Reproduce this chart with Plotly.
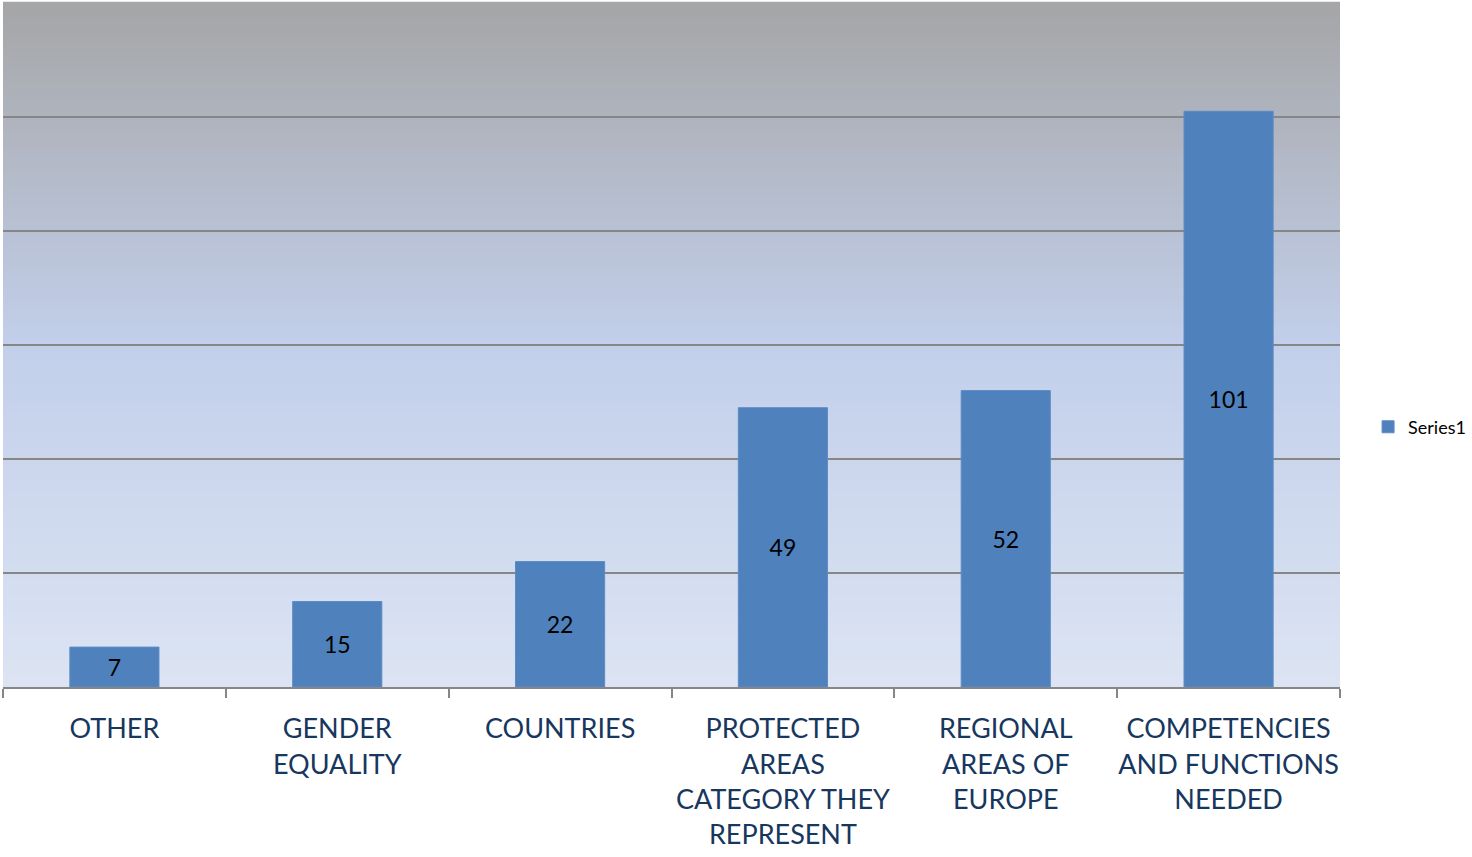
import plotly.graph_objects as go

categories = [
    "OTHER",
    "GENDER<br>EQUALITY",
    "COUNTRIES",
    "PROTECTED<br>AREAS<br>CATEGORY THEY<br>REPRESENT",
    "REGIONAL<br>AREAS OF<br>EUROPE",
    "COMPETENCIES<br>AND FUNCTIONS<br>NEEDED",
]
values = [7, 15, 22, 49, 52, 101]
series_name = "Series1"

FONT = "Lato"


def mix(c1, c2, t):
    return "#%02x%02x%02x" % tuple(round(a + (b - a) * t) for a, b in zip(c1, c2))


# gradient background: grey at top -> pale blue at bottom
top_c = (165, 165, 166)
mid_c = (194, 207, 234)
bot_c = (220, 228, 243)
steps = 120
shapes = []
for i in range(steps):
    f = i / steps  # 0 at bottom
    if f < 0.5:
        col = mix(bot_c, mid_c, f / 0.5)
    else:
        col = mix(mid_c, top_c, (f - 0.5) / 0.5)
    shapes.append(dict(
        type="rect", xref="x domain", yref="y domain",
        x0=0, x1=1, y0=i / steps, y1=(i + 1) / steps + 0.002,
        fillcolor=col, line=dict(width=0), layer="below",
    ))

fig = go.Figure()
fig.add_trace(go.Bar(
    x=categories, y=values, name=series_name,
    marker=dict(color="#4f81bd", line=dict(color="#5b8cc6", width=1)),
    text=[str(v) for v in values], textposition="inside",
    insidetextanchor="middle", textangle=0,
    textfont=dict(family=FONT, size=23, color="#000000"),
    showlegend=True,
))

fig.update_layout(
    width=1472, height=857,
    margin=dict(l=3, r=132, t=3, b=170, autoexpand=False),
    paper_bgcolor="white",
    plot_bgcolor="rgba(0,0,0,0)",
    bargap=0.6,
    shapes=shapes,
    font=dict(family=FONT),
    legend=dict(
        x=1.021, y=0.38, xanchor="left", yanchor="middle",
        font=dict(family=FONT, size=18, color="#000000"),
        itemwidth=30, bgcolor="rgba(0,0,0,0)",
    ),
)
fig.update_xaxes(
    showline=True, linecolor="#868686", linewidth=2,
    ticks="outside", tickson="boundaries", ticklen=9, tickcolor="#868686", tickwidth=2,
    tickfont=dict(family=FONT, size=27, color="#17375e"),
    ticklabelstandoff=17,
    tickangle=0, automargin=False, showgrid=False,
)
fig.update_yaxes(
    range=[0, 120], dtick=20, showgrid=True, gridcolor="#868686", gridwidth=2,
    showticklabels=False, zeroline=False, showline=False, automargin=False,
)

fig.write_html("out.html", config={"displayModeBar": False},
               post_script="document.body.style.margin='0';")
